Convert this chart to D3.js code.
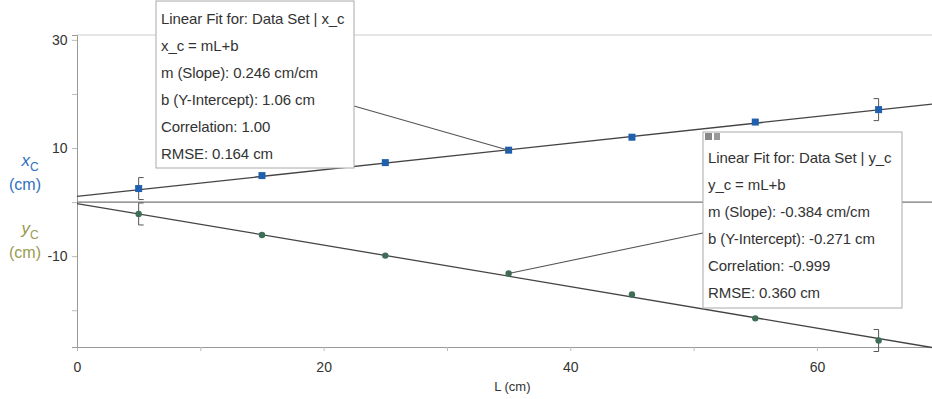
<!DOCTYPE html>
<html>
<head>
<meta charset="utf-8">
<script src="https://cdn.jsdelivr.net/npm/d3@7"></script>
<style>
  body { margin: 0; background: #fff; }
  svg { display: block; font-family: "Liberation Sans", Arial, sans-serif; }
</style>
</head>
<body>
<svg id="chart" width="932" height="399"></svg>
<script>
const svg = d3.select("#chart");
const width = 932;
const height = 399;

const margin = { T: 35, B: 52, R: 0, L: 77 };

// ---- DATA ---- //
const L = [5, 15, 25, 35, 45, 55, 65];
const xc = [2.5, 4.9, 7.3, 9.6, 12.0, 14.8, 17.1];
const yc = [-2.2, -6.1, -9.9, -13.2, -17.1, -21.5, -25.6];

const xFit = { m: 0.246, b: 1.06 };
const yFit = { m: -0.384, b: -0.271 };

const xTicks = [0, 10, 20, 30, 40, 50, 60];
const xLabels = [0, 20, 40, 60];
const yTicks = [30, 20, 10, 0, -10, -20];
const yLabels = [30, 10, -10];

const xBoxText = [
    "Linear Fit for: Data Set | x_c",
    "x_c = mL+b",
    "m (Slope): 0.246 cm/cm",
    "b (Y-Intercept): 1.06 cm",
    "Correlation: 1.00",
    "RMSE: 0.164 cm",
];
const yBoxText = [
    "Linear Fit for: Data Set | y_c",
    "y_c = mL+b",
    "m (Slope): -0.384 cm/cm",
    "b (Y-Intercept): -0.271 cm",
    "Correlation: -0.999",
    "RMSE: 0.360 cm",
];

// ---- SCALES ---- //
const xScale = d3.scaleLinear()
    .domain([0, 69.33])
    .range([margin.L, width - margin.R]);
const yScale = d3.scaleLinear()
    .domain([-26.8, 30.9])
    .range([height - margin.B, margin.T]);

const x0 = xScale.domain()[0], x1 = xScale.domain()[1];

// ---- FRAME ---- //
svg.append("line")
    .attr("x1", margin.L).attr("x2", width)
    .attr("y1", margin.T).attr("y2", margin.T)
    .attr("stroke", "#ccc").attr("stroke-width", 1);

const xAxis = d3.axisBottom(xScale)
    .tickValues(xTicks)
    .tickSize(4)
    .tickFormat(d => xLabels.includes(d) ? d : "");
const yAxis = d3.axisLeft(yScale)
    .tickValues(yTicks)
    .tickSize(5)
    .tickFormat(d => yLabels.includes(d) ? d : "");

const gx = svg.append("g")
    .attr("class", "x-axis")
    .attr("transform", `translate(0, ${height - margin.B})`)
    .call(xAxis);
const gy = svg.append("g")
    .attr("class", "y-axis")
    .attr("transform", `translate(${margin.L}, 0)`)
    .call(yAxis);

[gx, gy].forEach(g => {
    g.select(".domain").attr("stroke", "#999");
    g.selectAll(".tick line").attr("stroke", "#bbb");
    g.selectAll(".tick text")
        .attr("fill", "#333")
        .style("font-size", "14px");
});
gx.selectAll(".tick text").attr("dy", "1.25em");
gy.selectAll(".tick text").attr("dx", "-0.1em");

// zero line
svg.append("line")
    .attr("x1", margin.L).attr("x2", width)
    .attr("y1", yScale(0)).attr("y2", yScale(0))
    .attr("stroke", "#777").attr("stroke-width", 1.2);

// axis titles
svg.append("text")
    .attr("x", xScale(35.3)).attr("y", 391)
    .attr("text-anchor", "middle")
    .attr("fill", "#333")
    .style("font-size", "13px")
    .text("L (cm)");

function yTitle(letter, color, y) {
    const t = svg.append("text")
        .attr("x", 30).attr("y", y)
        .attr("text-anchor", "middle")
        .attr("fill", color)
        .style("font-size", "17px");
    t.append("tspan").style("font-style", "italic").text(letter);
    t.append("tspan").attr("dy", 5).style("font-size", "12px").text("C");
    svg.append("text")
        .attr("x", 25).attr("y", y + 24)
        .attr("text-anchor", "middle")
        .attr("fill", color)
        .style("font-size", "16px")
        .text("(cm)");
}
yTitle("x", "#2f6fbf", 166);
yTitle("y", "#9a9a50", 234);

// ---- FIT LINES ---- //
[xFit, yFit].forEach(f => {
    svg.append("line")
        .attr("x1", xScale(x0)).attr("y1", yScale(f.m * x0 + f.b))
        .attr("x2", xScale(x1)).attr("y2", yScale(f.m * x1 + f.b))
        .attr("stroke", "#444").attr("stroke-width", 1.3);
});

// ---- RANGE BRACKETS ---- //
function bracket(i, vals, dir) {
    const px = xScale(L[i]);
    const py = yScale(vals[i]);
    const h = 11, w = 5 * dir;
    svg.append("path")
        .attr("d", `M${px + w},${py - h} H${px} V${py + h} H${px + w}`)
        .attr("fill", "none")
        .attr("stroke", "#555")
        .attr("stroke-width", 1);
}
bracket(0, xc, 1);
bracket(0, yc, 1);
bracket(L.length - 1, xc, -1);
bracket(L.length - 1, yc, -1);

// ---- POINTS ---- //
svg.selectAll(".xc-point")
    .data(L.map((d, i) => ({ L: d, v: xc[i] })))
    .enter()
    .append("rect")
        .attr("class", "xc-point")
        .attr("x", d => xScale(d.L) - 3.5)
        .attr("y", d => yScale(d.v) - 3.5)
        .attr("width", 7).attr("height", 7)
        .attr("fill", "#1f5fae");

svg.selectAll(".yc-point")
    .data(L.map((d, i) => ({ L: d, v: yc[i] })))
    .enter()
    .append("circle")
        .attr("class", "yc-point")
        .attr("cx", d => xScale(d.L))
        .attr("cy", d => yScale(d.v))
        .attr("r", 3.2)
        .attr("fill", "#3f6e58");

// ---- FIT BOXES ---- //
function fitBox(lines, bx, by, bw, bh, top, leader) {
    svg.append("line")
        .attr("x1", leader[0]).attr("y1", leader[1])
        .attr("x2", leader[2]).attr("y2", leader[3])
        .attr("stroke", "#555").attr("stroke-width", 1.1);
    svg.append("rect")
        .attr("x", bx).attr("y", by)
        .attr("width", bw).attr("height", bh)
        .attr("fill", "#fff")
        .attr("stroke", "#aaa");
    svg.append("g")
        .selectAll("text")
        .data(lines)
        .enter()
        .append("text")
            .attr("x", bx + 5)
            .attr("y", (d, i) => by + top + i * 27)
            .attr("fill", "#333")
            .style("font-size", "15px")
            .style("letter-spacing", "-0.1px")
            .text(d => d);
}

fitBox(xBoxText, 156, 1, 198, 167, 23,
    [354, 106, xScale(L[3]), yScale(xc[3])]);
fitBox(yBoxText, 703, 132, 199, 176, 31,
    [703, 233, xScale(L[3]), yScale(yc[3])]);

// small icons on the y_c box
svg.append("rect").attr("x", 705).attr("y", 133).attr("width", 7).attr("height", 7).attr("fill", "#888");
svg.append("rect").attr("x", 714).attr("y", 133).attr("width", 6).attr("height", 7).attr("fill", "#999");
</script>
</body>
</html>
